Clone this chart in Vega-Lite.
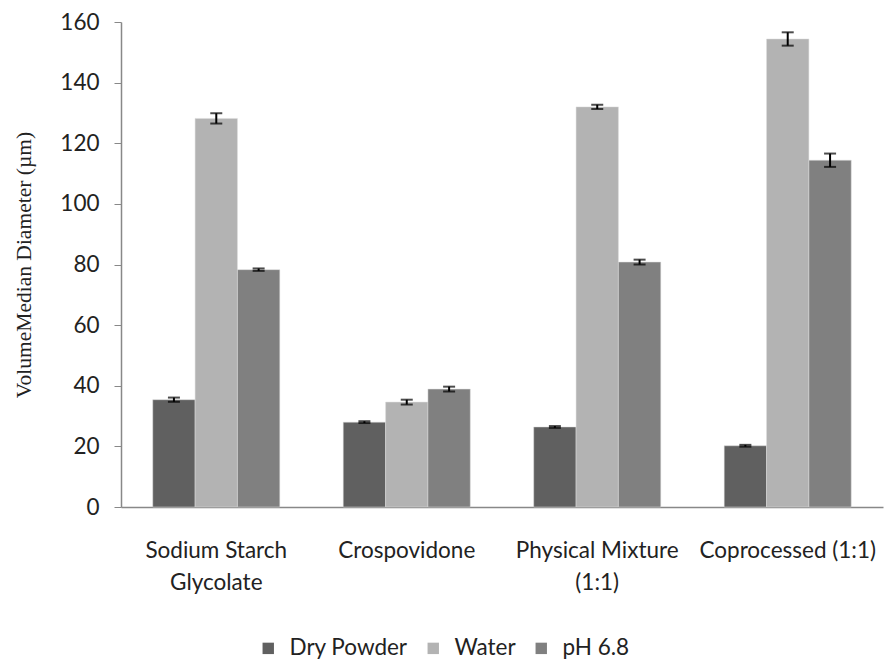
{
  "$schema": "https://vega.github.io/schema/vega-lite/v6.json",
  "autosize": "none",
  "width": 762,
  "height": 485,
  "padding": {"left": 121, "top": 22, "right": 1, "bottom": 154},
  "background": "white",
  "config": {"view": {"stroke": null}, "font": "Lato"},
  "data": {
    "values": [
      {"cat": "Sodium Starch Glycolate", "series": "Dry Powder", "value": 35.4, "lo": 34.7, "hi": 36.1},
      {"cat": "Sodium Starch Glycolate", "series": "Water", "value": 128.2, "lo": 126.5, "hi": 129.9},
      {"cat": "Sodium Starch Glycolate", "series": "pH 6.8", "value": 78.3, "lo": 77.9, "hi": 78.7},
      {"cat": "Crospovidone", "series": "Dry Powder", "value": 28.0, "lo": 27.7, "hi": 28.3},
      {"cat": "Crospovidone", "series": "Water", "value": 34.6, "lo": 33.8, "hi": 35.4},
      {"cat": "Crospovidone", "series": "pH 6.8", "value": 38.9, "lo": 38.1, "hi": 39.7},
      {"cat": "Physical Mixture (1:1)", "series": "Dry Powder", "value": 26.4, "lo": 26.1, "hi": 26.7},
      {"cat": "Physical Mixture (1:1)", "series": "Water", "value": 132.0, "lo": 131.3, "hi": 132.7},
      {"cat": "Physical Mixture (1:1)", "series": "pH 6.8", "value": 80.8, "lo": 80.0, "hi": 81.6},
      {"cat": "Coprocessed (1:1)", "series": "Dry Powder", "value": 20.2, "lo": 19.9, "hi": 20.5},
      {"cat": "Coprocessed (1:1)", "series": "Water", "value": 154.4, "lo": 152.2, "hi": 156.6},
      {"cat": "Coprocessed (1:1)", "series": "pH 6.8", "value": 114.4, "lo": 112.2, "hi": 116.6}
    ]
  },
  "encoding": {
    "x": {
      "field": "cat",
      "type": "nominal",
      "sort": null,
      "scale": {"paddingInner": 0.333, "paddingOuter": 0.1667},
      "axis": {
        "title": null,
        "labelAngle": 0,
        "labelFontSize": 22.5,
        "labelColor": "#222222",
        "labelPadding": 43,
        "labelLineHeight": 32,
        "labelBaseline": "middle",
        "labelExpr": "datum.value == 'Sodium Starch Glycolate' ? ['Sodium Starch', 'Glycolate'] : datum.value == 'Physical Mixture (1:1)' ? ['Physical Mixture', '(1:1)'] : datum.value",
        "ticks": false,
        "domainColor": "#888888",
        "domainWidth": 1.5
      }
    },
    "xOffset": {"field": "series", "type": "nominal", "sort": ["Dry Powder", "Water", "pH 6.8"], "scale": {"paddingInner": 0, "paddingOuter": 0}}
  },
  "layer": [
    {
      "mark": {"type": "bar", "stroke": "#dddddd", "strokeWidth": 0.5},
      "encoding": {
        "y": {
          "field": "value",
          "type": "quantitative",
          "scale": {"domain": [0, 160], "nice": false},
          "axis": {
            "title": "VolumeMedian Diameter (µm)",
            "titleFont": "Liberation Serif",
            "titleFontSize": 21.5,
            "titleFontWeight": "normal",
            "titleColor": "#222222",
            "titlePadding": 24,
            "values": [0, 20, 40, 60, 80, 100, 120, 140, 160],
            "labelFontSize": 22.5,
            "labelColor": "#222222",
            "labelPadding": 15,
            "tickSize": 7,
            "tickColor": "#888888",
            "domainColor": "#888888",
            "domainWidth": 1.5,
            "grid": false
          }
        },
        "color": {
          "field": "series",
          "type": "nominal",
          "sort": ["Dry Powder", "Water", "pH 6.8"],
          "scale": {"domain": ["Dry Powder", "Water", "pH 6.8"], "range": ["#606060", "#b3b3b3", "#808080"]},
          "legend": {
            "title": null,
            "orient": "none",
            "direction": "horizontal",
            "legendX": 136,
            "legendY": 615,
            "symbolType": "square",
            "symbolSize": 130,
            "symbolStrokeWidth": 0,
            "labelFontSize": 22.5,
            "labelColor": "#222222",
            "labelOffset": 10,
            "columnPadding": 14
          }
        }
      }
    },
    {
      "mark": {"type": "rule", "color": "black", "strokeWidth": 2},
      "encoding": {
        "y": {"field": "lo", "type": "quantitative"},
        "y2": {"field": "hi"}
      }
    },
    {
      "mark": {"type": "tick", "color": "black", "thickness": 2, "size": 12},
      "encoding": {"y": {"field": "lo", "type": "quantitative"}}
    },
    {
      "mark": {"type": "tick", "color": "black", "thickness": 2, "size": 12},
      "encoding": {"y": {"field": "hi", "type": "quantitative"}}
    }
  ]
}
